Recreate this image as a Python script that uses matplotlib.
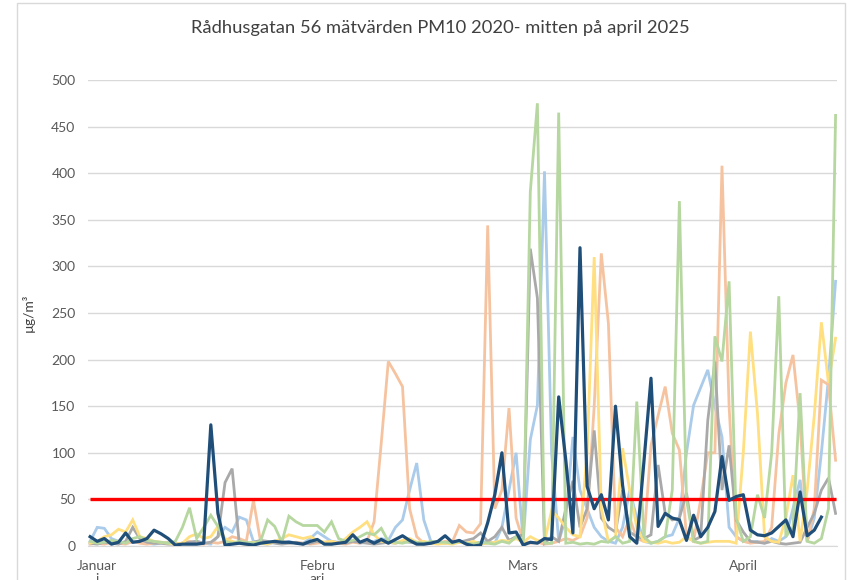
import matplotlib.pyplot as plt
from matplotlib.patches import Rectangle

plt.rcParams['font.family'] = ['Lato', 'DejaVu Sans']

# daily PM10 values, 1 Jan -> mid April (index = day of year - 1)
y2020 = [5, 20, 19, 8, 5, 3, 4, 5, 3, 2,
         3, 4, 2, 3, 4, 5, 3, 2, 10, 20,
         15, 31, 28, 5, 3, 2, 4, 3, 5, 3,
         3, 8, 15, 10, 5, 4, 6, 5, 3, 4,
         5, 8, 6, 20, 28, 60, 89, 28, 5, 3,
         4, 3, 5, 2, 3, 4, 5, 3, 20, 60,
         100, 5, 114, 151, 402, 100, 5, 30, 117, 60,
         40, 20, 10, 5, 3, 20, 60, 30, 5, 3,
         5, 10, 12, 30, 100, 151, 170, 189, 150, 117,
         20, 10, 5, 4, 5, 3, 8, 5, 10, 40,
         71, 5, 30, 100, 180, 284]
y2021 = [2, 3, 2, 4, 3, 2, 5, 3, 2, 3,
         4, 3, 2, 3, 5, 3, 2, 4, 3, 5,
         10, 8, 5, 49, 5, 3, 4, 5, 3, 4,
         3, 2, 3, 4, 5, 3, 2, 4, 3, 5,
         26, 110, 198, 185, 171, 40, 10, 3, 4, 3,
         5, 4, 22, 15, 14, 24, 344, 40, 60, 148,
         30, 5, 3, 4, 2, 3, 5, 8, 6, 10,
         30, 150, 314, 239, 20, 10, 30, 8, 5, 108,
         140, 171, 121, 103, 10, 5, 50, 100, 100, 408,
         150, 10, 5, 3, 4, 5, 20, 120, 175, 205,
         132, 5, 40, 178, 173, 92]
y2022 = [3, 2, 4, 3, 2, 5, 20, 8, 4, 3,
         3, 2, 2, 3, 4, 5, 3, 4, 10, 68,
         83, 3, 2, 4, 6, 5, 3, 2, 3, 4,
         2, 3, 5, 3, 2, 4, 3, 5, 4, 3,
         2, 3, 4, 3, 5, 4, 3, 2, 3, 4,
         3, 5, 4, 6, 8, 14, 5, 10, 20, 6,
         10, 12, 319, 266, 3, 10, 5, 40, 70, 20,
         40, 124, 30, 20, 15, 60, 15, 10, 8, 12,
         87, 35, 28, 30, 57, 6, 10, 135, 198, 60,
         108, 28, 15, 5, 4, 3, 5, 3, 2, 3,
         4, 20, 35, 60, 73, 35]
y2023 = [3, 5, 10, 12, 18, 15, 28, 10, 8, 5,
         4, 3, 2, 3, 10, 13, 8, 10, 21, 8,
         5, 3, 2, 4, 3, 2, 5, 8, 12, 10,
         8, 10, 6, 4, 5, 3, 8, 15, 20, 26,
         12, 5, 4, 3, 6, 8, 4, 5, 3, 2,
         3, 2, 4, 3, 5, 2, 3, 4, 6, 5,
         8, 4, 10, 6, 5, 38, 30, 20, 12, 10,
         100, 310, 40, 5, 10, 105, 60, 20, 5, 4,
         3, 5, 3, 4, 10, 5, 3, 4, 5, 5,
         5, 3, 100, 230, 142, 10, 5, 4, 30, 76,
         5, 60, 140, 240, 175, 223]
y2024 = [5, 3, 4, 6, 5, 3, 8, 10, 6, 5,
         4, 3, 5, 20, 41, 8, 20, 33, 21, 5,
         3, 5, 4, 3, 5, 28, 21, 4, 32, 26,
         22, 22, 22, 15, 26, 8, 5, 6, 10, 14,
         12, 19, 5, 4, 3, 5, 4, 3, 5, 4,
         4, 3, 5, 3, 2, 4, 3, 2, 5, 3,
         10, 5, 380, 475, 3, 3, 465, 3, 4, 2,
         3, 2, 5, 4, 10, 3, 5, 155, 10, 3,
         5, 10, 60, 370, 50, 5, 3, 5, 225, 198,
         284, 30, 5, 10, 55, 30, 100, 268, 10, 20,
         164, 5, 3, 8, 40, 462]
y2025 = [10, 5, 8, 2, 4, 14, 4, 5, 8, 17,
         13, 8, 1, 2, 2, 2, 3, 130, 35, 1,
         2, 3, 2, 1, 3, 4, 5, 4, 4, 3,
         2, 5, 7, 2, 2, 3, 4, 12, 4, 7,
         3, 7, 3, 7, 11, 6, 2, 2, 3, 5,
         11, 4, 6, 2, 0, 1, 25, 55, 100, 14,
         15, 1, 4, 3, 8, 7, 160, 92, 14, 320,
         64, 40, 55, 28, 150, 65, 10, 3, 90, 180,
         21, 35, 30, 28, 6, 33, 10, 20, 37, 96,
         49, 53, 55, 17, 12, 11, 14, 21, 28, 10,
         58, 11, 17, 31]

limit = 50
month_start = [0, 31, 60, 91]
month_labels = ['Januar\ni', 'Febru\nari', 'Mars', 'April']

pale = [(y2020, '#aacbea'), (y2021, '#f6c3a0'), (y2022, '#a9a9a9'),
        (y2023, '#ffdf80'), (y2024, '#b6d79f')]

fig = plt.figure(figsize=(8.56, 5.8), dpi=100)
ax = fig.add_axes([88 / 856, 34 / 580, 749 / 856, 466 / 580])

for vals, col in pale:
    ax.plot(range(len(vals)), vals, color=col, lw=2.0, solid_joinstyle='miter')
ax.hlines(limit, 0, len(y2020) - 1, color='#ff0000', lw=2.4, zorder=3)
ax.plot(range(len(y2025)), y2025, color='#1f4e79', lw=2.3, zorder=4)

ax.set_xlim(-0.3, 105.2)
ax.set_ylim(0, 500)
ax.set_yticks(range(0, 501, 50))
ax.set_xticks([m + 1 for m in month_start])
ax.set_xticklabels(month_labels, fontsize=10, color='#595959', linespacing=1.1)
ax.tick_params(axis='y', length=0, labelsize=10, labelcolor='#595959', pad=9)
ax.tick_params(axis='x', length=0, pad=10)
ax.grid(axis='y', color='#d9d9d9', lw=1)
ax.set_axisbelow(True)
for s in ['top', 'right', 'left']:
    ax.spines[s].set_visible(False)
ax.spines['bottom'].set_color('#d9d9d9')
ax.set_ylabel('µg/m³', fontsize=10, color='#404040')
ax.yaxis.set_label_coords(-53 / 749, 0.5)

fig.text(440 / 856, 1 - 28 / 580, 'Rådhusgatan 56 mätvärden PM10 2020- mitten på april 2025',
         ha='center', va='center', fontsize=13.2, color='#404040')
fig.patches.append(Rectangle((17 / 856, -0.1), 828 / 856, 1.1 - 3 / 580,
                             transform=fig.transFigure, fill=False,
                             edgecolor='#d9d9d9', lw=1))

fig.savefig('out.png', dpi=100)
